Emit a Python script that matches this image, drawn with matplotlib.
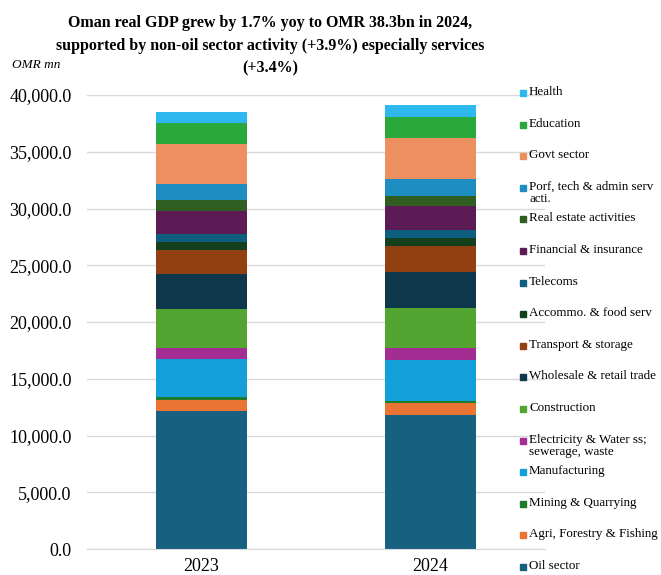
import numpy as np
import matplotlib
matplotlib.use("Agg")
import matplotlib.pyplot as plt
from matplotlib.patches import Rectangle

plt.rcParams['font.family'] = ['Liberation Serif', 'DejaVu Serif']

# Oman real GDP by activity, OMR mn
years = ['2023', '2024']
sectors = ['Oil sector', 'Agri, Forestry & Fishing', 'Mining & Quarrying', 'Manufacturing',
           'Electricity & Water ss;\nsewerage, waste', 'Construction', 'Wholesale & retail trade',
           'Transport & storage', 'Accommo. & food serv', 'Telecoms', 'Financial & insurance',
           'Real estate activities', 'Porf, tech & admin serv\nacti.', 'Govt sector',
           'Education', 'Health']
v2023 = [12180, 940, 290, 3320, 950, 3500, 3030, 2110, 710, 700, 2090, 910, 1420, 3500, 1850, 1000]
v2024 = [11820, 1000, 240, 3590, 1030, 3530, 3230, 2240, 700, 710, 2110, 920, 1500, 3580, 1890, 1050]
colors = ['#17607f', '#ea7433', '#1f7a2c', '#139fd8', '#a32d93', '#52a531', '#0e374b',
          '#923f12', '#133f1c', '#0e5e7f', '#5c1b54', '#2f5e20', '#1e8dc1', '#ed8f5e',
          '#2ba83c', '#2db9ee']

W, H = 661, 575
fig = plt.figure(figsize=(W / 100, H / 100), dpi=100)
ax = fig.add_axes([87 / W, 1 - 549 / H, (545 - 87) / W, (549 - 95) / H])

data = np.array([v2023, v2024])
x = np.arange(len(years))
bottom = np.zeros(len(years))
for i, name in enumerate(sectors):
    ax.bar(x, data[:, i], width=0.4, bottom=bottom, color=colors[i], zorder=2)
    bottom += data[:, i]

ax.set_xlim(-0.5, 1.5)
ax.set_ylim(0, 40000)
ax.set_yticks(np.arange(0, 40001, 5000))
ax.set_yticklabels([f'{t:,.1f}' for t in np.arange(0, 40001, 5000)], fontsize=13)
ax.set_xticks(x)
ax.set_xticklabels(years, fontsize=13)
ax.tick_params(length=0)
ax.tick_params(axis='y', pad=11)
ax.tick_params(axis='x', pad=6.5)
ax.grid(axis='y', color='#d9d9d9', linewidth=1, zorder=0)
for s in ['top', 'right', 'left']:
    ax.spines[s].set_visible(False)
ax.spines['bottom'].set_color('#d9d9d9')

# title and unit
fig.text(270 / W, 1 - 15 / H,
         'Oman real GDP grew by 1.7% yoy to OMR 38.3bn in 2024,\n'
         'supported by non-oil sector activity (+3.9%) especially services\n(+3.4%)',
         ha='center', va='top', fontsize=11.5, fontweight='bold', linespacing=1.55)
fig.text(12 / W, 1 - 65 / H, 'OMR mn', fontsize=9.5, style='italic', va='center')

# legend, reverse order, evenly spaced rows
for i, idx in enumerate(range(len(sectors) - 1, -1, -1)):
    yc = 93 + i * 31.6
    fig.patches.append(Rectangle((520 / W, 1 - (yc + 3) / H), 6 / W, 6 / H,
                                 transform=fig.transFigure, color=colors[idx]))
    fig.text(529 / W, 1 - (yc - 7) / H, sectors[idx], fontsize=9.4, va='top',
             linespacing=1.05)

fig.savefig('out.png', dpi=100)
